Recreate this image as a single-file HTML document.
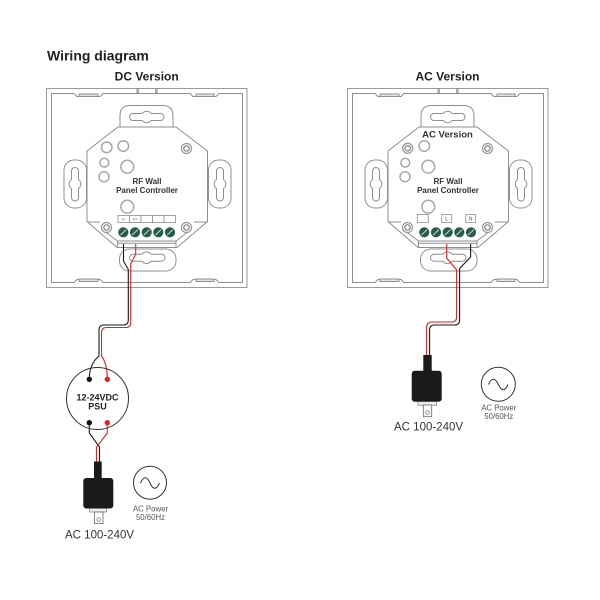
<!DOCTYPE html>
<html><head><meta charset="utf-8"><style>
html,body{margin:0;padding:0;background:#fff;}
svg{display:block;}
text{font-family:"Liberation Sans",Arial,sans-serif;}
</style></head><body>
<svg width="600" height="600" viewBox="0 0 600 600" xmlns="http://www.w3.org/2000/svg">
<defs>
<g id="pnl">
 <g fill="none" stroke="#8f8f8f" stroke-width="1">
  <rect x="46.5" y="88.5" width="200.5" height="199" stroke="#9a9a9a"/>
  <path d="M51.5,93.5 H74 L77,96.5 H100 L103,93.5 H190 L193,96.5 H216 L219,93.5 H242.5 V282.5 H219 L216,279.5 H193 L190,282.5 H103 L100,279.5 H77 L74,282.5 H51.5 Z"/>
  <rect x="79" y="94" width="19" height="2.5" fill="#e4e4e4"/>
  <rect x="196" y="94" width="18" height="2.5" fill="#e4e4e4"/>
  <rect x="79" y="279" width="19" height="2.5" fill="#e4e4e4"/>
  <rect x="196" y="279" width="18" height="2.5" fill="#e4e4e4"/>
  <path d="M137,88.5 V93.5 M138.3,88.5 V93.5 M155.7,88.5 V93.5 M157,88.5 V93.5"/>
  <!-- slots -->
  <path d="M120,127 V116 Q120,105.5 130.5,105.5 H162.5 Q173,105.5 173,116 V127"/>
  <path d="M133,113.5 H142.3 A5.5,5.5 0 0 1 151.1,113.5 H160.5 A3.5,3.5 0 0 1 160.5,120.5 H151.1 A5.5,5.5 0 0 1 142.3,120.5 H133 A3.5,3.5 0 0 1 133,113.5 Z"/>
  <rect x="119.5" y="249" width="56.5" height="22" rx="10"/>
  <path d="M133,254.2 H142 A5.5,5.5 0 0 1 151,254.2 H161.5 A3.5,3.5 0 0 1 161.5,261.2 H151 A5.5,5.5 0 0 1 142,261.2 H133 A3.5,3.5 0 0 1 133,254.2 Z"/>
  <rect x="64" y="160" width="22.5" height="48" rx="10"/>
  <path d="M71.5,171 V179.5 A5.5,5.5 0 0 0 71.5,188.5 V197.5 A3.5,3.5 0 0 0 78.5,197.5 V188.5 A5.5,5.5 0 0 0 78.5,179.5 V171 A3.5,3.5 0 0 0 71.5,171 Z"/>
  <rect x="208.5" y="160" width="22.5" height="48" rx="10"/>
  <path d="M216.5,171 V179.5 A5.5,5.5 0 0 0 216.5,188.5 V197.5 A3.5,3.5 0 0 0 223.5,197.5 V188.5 A5.5,5.5 0 0 0 223.5,179.5 V171 A3.5,3.5 0 0 0 216.5,171 Z"/>
  <!-- plate -->
  <path d="M118,127 H176 L207.5,151 V221.5 L177,247.5 H117 L87,221.5 V151 Z" fill="#fff"/>
  <path d="M87,222 H100 M194,222 H207.5 M102,229.5 L117.5,241 M191,229.5 L176,241"/>
  <rect x="117.5" y="241" width="58.5" height="6.5" fill="#fff"/>
  <path d="M117.5,243.2 H176"/>
 </g>
 <!-- holes -->
 <g fill="#fff" stroke="#a8a8a8" stroke-width="1.5">
  <circle cx="123.3" cy="146" r="5.3"/>
  <circle cx="104.3" cy="162.7" r="4.4"/>
  <circle cx="104" cy="176.7" r="5"/>
  <circle cx="127.3" cy="166.7" r="6.4"/>
  <circle cx="127.3" cy="206.7" r="6.4"/>
 </g>
 <!-- screws -->
 <g fill="#fff">
  <circle cx="106.5" cy="227.5" r="5" stroke="#9a9a9a" stroke-width="1.3"/>
  <circle cx="106.5" cy="227.5" r="2.7" stroke="#6f6f6f" stroke-width="1"/>
  <circle cx="186.5" cy="227.5" r="5" stroke="#9a9a9a" stroke-width="1.3"/>
  <circle cx="186.5" cy="227.5" r="2.7" stroke="#6f6f6f" stroke-width="1"/>
  <circle cx="186.5" cy="148.5" r="5" stroke="#9a9a9a" stroke-width="1.3"/>
  <circle cx="186.5" cy="148.5" r="2.7" stroke="#6f6f6f" stroke-width="1"/>
 </g>
 <!-- terminals -->
 <g fill="#275c48">
  <circle cx="123.3" cy="232.3" r="5.1"/>
  <circle cx="135" cy="232.3" r="5.1"/>
  <circle cx="146.7" cy="232.3" r="5.1"/>
  <circle cx="158.3" cy="232.3" r="5.1"/>
  <circle cx="170" cy="232.3" r="5.1"/>
 </g>
 <g stroke="#c9ddd4" stroke-width="1">
  <path d="M120.5,235 L126.1,229.6 M132.2,235 L137.8,229.6 M143.9,235 L149.5,229.6 M155.5,235 L161.1,229.6 M167.2,235 L172.8,229.6"/>
 </g>
</g>
<g id="screw">
 <circle cx="0" cy="0" r="5" fill="#fff" stroke="#9a9a9a" stroke-width="1.3"/>
 <circle cx="0" cy="0" r="2.7" fill="#fff" stroke="#6f6f6f" stroke-width="1"/>
</g>
</defs>

<!-- Title -->
<text x="47" y="60.5" font-size="14" font-weight="bold" fill="#222">Wiring diagram</text>
<text x="146.7" y="80.5" font-size="12" font-weight="bold" fill="#222" text-anchor="middle">DC Version</text>
<text x="447.5" y="80.5" font-size="12" font-weight="bold" fill="#222" text-anchor="middle">AC Version</text>

<!-- DC panel -->
<use href="#pnl"/>
<circle cx="106.7" cy="147.3" r="5.3" fill="#fff" stroke="#a8a8a8" stroke-width="1.5"/>
<g fill="#fff" stroke="#8f8f8f" stroke-width="0.8">
 <rect x="118" y="215.5" width="11.5" height="7"/>
 <rect x="129.5" y="215.5" width="11.5" height="7"/>
 <rect x="141" y="215.5" width="11.5" height="7"/>
 <rect x="152.5" y="215.5" width="11.5" height="7"/>
 <rect x="164" y="215.5" width="11.5" height="7"/>
</g>
<text x="123.7" y="220.6" font-size="4" fill="#555" text-anchor="middle">V-</text>
<text x="135.2" y="220.6" font-size="4" fill="#555" text-anchor="middle">V+</text>
<text x="147" y="184" font-size="8" font-weight="bold" fill="#333" text-anchor="middle">RF Wall</text>
<text x="147" y="193" font-size="8" font-weight="bold" fill="#333" text-anchor="middle">Panel Controller</text>

<!-- AC panel -->
<use href="#pnl" transform="translate(301,0)"/>
<use href="#screw" transform="translate(407.7,148.3)"/>
<g fill="#fff" stroke="#8f8f8f" stroke-width="0.8">
 <rect x="417.3" y="214.5" width="11" height="8"/>
 <rect x="441.7" y="214.5" width="10" height="8"/>
 <rect x="465.8" y="214.5" width="9.8" height="8"/>
</g>
<text x="446.7" y="220.6" font-size="5" fill="#555" text-anchor="middle">L</text>
<text x="470.7" y="220.6" font-size="5" fill="#555" text-anchor="middle">N</text>
<text x="447.5" y="137.5" font-size="9.5" font-weight="bold" fill="#333" text-anchor="middle">AC Version</text>
<text x="448" y="184" font-size="8" font-weight="bold" fill="#333" text-anchor="middle">RF Wall</text>
<text x="448" y="193" font-size="8" font-weight="bold" fill="#333" text-anchor="middle">Panel Controller</text>

<!-- DC wires -->
<g fill="none" stroke-width="1.1">
 <path stroke="#1a1a1a" d="M123.5,244 V261 L128.3,269.5 V320 Q128.3,325 123.3,325 H104 Q99,325 99,330 V356 Q89.3,364 89.3,379"/>
 <path stroke="#e3211d" d="M135.7,244 V254 L130.7,264 V322.5 Q130.7,327.5 125.7,327.5 H106.5 Q101.5,327.5 101.5,332.5 V356 Q107.3,364 107.3,379"/>
 <path stroke="#1a1a1a" d="M89.3,423 V433 L99.5,447 V462"/>
 <path stroke="#e3211d" d="M107.3,423 V433 L96.5,447 V462"/>
</g>

<!-- PSU -->
<circle cx="97.5" cy="398.5" r="31" fill="none" stroke="#333" stroke-width="1"/>
<circle cx="89.3" cy="379.3" r="2.7" fill="#111"/>
<circle cx="107.3" cy="379.3" r="2.7" fill="#e3211d"/>
<circle cx="89.3" cy="422.7" r="2.7" fill="#111"/>
<circle cx="107.3" cy="422.7" r="2.7" fill="#e3211d"/>
<text x="97.5" y="400.5" font-size="9" font-weight="bold" fill="#222" text-anchor="middle">12-24VDC</text>
<text x="97.5" y="409.7" font-size="9" font-weight="bold" fill="#222" text-anchor="middle">PSU</text>

<!-- DC plug -->
<rect x="94" y="461.5" width="7.7" height="18" fill="#1a1a1a"/>
<rect x="83.3" y="478" width="30" height="30.5" rx="3" fill="#1a1a1a"/>
<rect x="89.5" y="508.5" width="17" height="3.5" fill="#eee" stroke="#777" stroke-width="0.7"/>
<rect x="94.5" y="512" width="8.5" height="11.5" fill="#fff" stroke="#666" stroke-width="0.8"/>
<circle cx="98.7" cy="519.5" r="1.8" fill="none" stroke="#666" stroke-width="0.7"/>
<text x="65" y="538.5" font-size="11.5" fill="#333">AC 100-240V</text>

<!-- DC AC power symbol -->
<circle cx="150" cy="482.7" r="16.5" fill="none" stroke="#333" stroke-width="1"/>
<path d="M140.5,483 C143.5,476 147,476 150,483 S156.5,490 159.5,483" fill="none" stroke="#333" stroke-width="1"/>
<text x="150.5" y="511.5" font-size="7.8" fill="#555" text-anchor="middle">AC Power</text>
<text x="150.5" y="520" font-size="7.8" fill="#555" text-anchor="middle">50/60Hz</text>

<!-- AC wires -->
<g fill="none" stroke-width="1.1">
 <path stroke="#e3211d" d="M446.7,244 V258 L456.6,270 V317 Q456.6,322 451.6,322 H432 Q426.6,322 426.6,327.5 V357"/>
 <path stroke="#1a1a1a" d="M470.6,244 V257 L459.6,268.5 V320 Q459.6,325 454.6,325 H434.6 Q429.6,325 429.6,330 V357"/>
</g>

<!-- AC plug -->
<rect x="423.3" y="355" width="8.4" height="17" fill="#1a1a1a"/>
<rect x="411.7" y="370.7" width="30" height="31" rx="3" fill="#1a1a1a"/>
<rect x="418" y="401.7" width="18.5" height="3.5" fill="#eee" stroke="#777" stroke-width="0.7"/>
<rect x="423.3" y="405" width="8.4" height="11.7" fill="#fff" stroke="#666" stroke-width="0.8"/>
<circle cx="427.5" cy="412.5" r="1.8" fill="none" stroke="#666" stroke-width="0.7"/>
<text x="394" y="430.3" font-size="11.5" fill="#333">AC 100-240V</text>

<!-- AC power symbol -->
<circle cx="498.3" cy="384.3" r="17" fill="none" stroke="#333" stroke-width="1"/>
<path d="M488.5,384.5 C491.5,377.5 495,377.5 498.3,384.5 S505,391.5 508,384.5" fill="none" stroke="#333" stroke-width="1"/>
<text x="498.8" y="410.5" font-size="7.8" fill="#555" text-anchor="middle">AC Power</text>
<text x="498.8" y="418.8" font-size="7.8" fill="#555" text-anchor="middle">50/60Hz</text>
</svg>
</body></html>
